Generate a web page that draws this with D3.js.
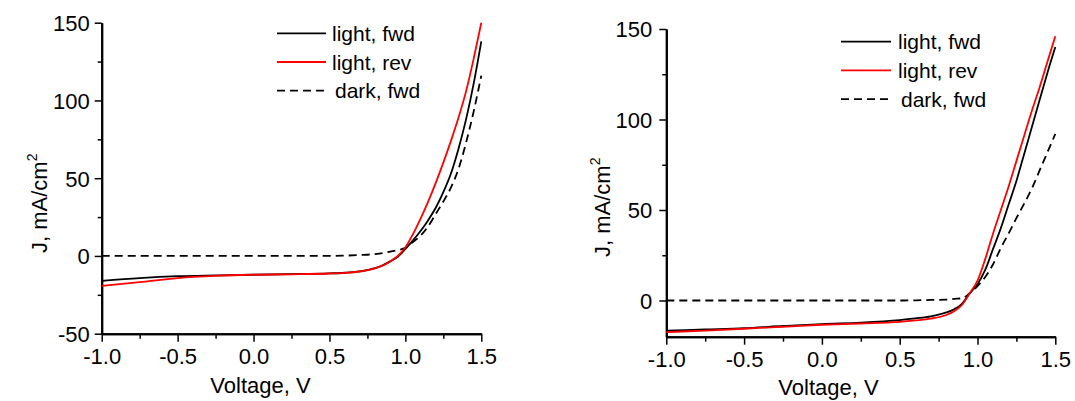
<!DOCTYPE html>
<html>
<head>
<meta charset="utf-8">
<script src="https://cdn.jsdelivr.net/npm/d3@7"></script>
<style>
  body { margin: 0; background: #fff; }
  svg { display: block; font-family: "Liberation Sans", Arial, sans-serif; }
</style>
</head>
<body>
<div id="chart"></div>
<script>
var w = 1075;
var h = 401;

// Voltage points shared by all curves (V)
var voltage = [-1.0, -0.75, -0.5, -0.25, 0, 0.25, 0.5, 0.6, 0.7, 0.8, 0.85, 0.9, 0.95,
  1.0, 1.05, 1.1, 1.15, 1.2, 1.25, 1.3, 1.35, 1.4, 1.45, 1.5];

// Left panel, J in mA/cm2
var leftFwd = [-16.0, -14.2, -13.0, -12.5, -12.1, -11.7, -11.2, -10.8, -9.9, -7.8, -6.0, -3.5, -0.5,
  4.5, 10, 16, 23, 31, 41, 53, 69, 88, 111, 138];
var leftRev = [-19.3, -16.8, -14.2, -12.8, -12.1, -11.8, -11.3, -10.9, -10.0, -8.0, -6.2, -3.5, 0,
  5.5, 14, 24, 35, 47, 60, 74, 89, 106, 127, 150];
var leftDark = [0, 0, 0, 0, 0, 0, 0, 0.2, 0.6, 1.2, 1.8, 2.8, 3.8,
  5.2, 9, 13, 19, 27, 35, 44, 56, 73, 93, 116];

// Right panel
var rightFwd = [-16.7, -16.0, -15.3, -14.1, -13.0, -12.2, -10.8, -9.9, -8.8, -6.6, -4.8, -1.8, 4,
  9, 17, 28.5, 40, 53, 66, 81, 96, 111, 126, 140];
var rightRev = [-17.5, -16.6, -15.6, -14.5, -13.4, -12.7, -11.8, -11.0, -10.0, -8.0, -6.0, -2.5, 4,
  11, 23, 37, 50, 63, 77, 91, 105, 118, 132, 146];
var rightDark = [0, 0, 0, 0, 0, 0, 0, 0.1, 0.3, 0.5, 0.9, 1.2, 4,
  8, 13, 20, 29, 37, 45.5, 53.5, 62, 72, 82, 92];

var xMajor = [-1.0, -0.5, 0, 0.5, 1.0, 1.5];
var xMinor = [-0.75, -0.25, 0.25, 0.75, 1.25];
var leftYMajor = [-50, 0, 50, 100, 150];
var leftYMinor = [-25, 25, 75, 125];
var rightYMajor = [0, 50, 100, 150];
var rightYMinor = [25, 75, 125];

var seriesNames = ["light, fwd", "light, rev", "dark, fwd"];

var svg = d3.select("#chart")
  .append("svg")
  .attr("width", w)
  .attr("height", h);

function drawPanel(opt) {
  var x = d3.scaleLinear().domain([-1, 1.5]).range([opt.x0, opt.x1]);
  var y = d3.scaleLinear().domain(opt.yDomain).range([opt.y0, opt.y1]);

  var g = svg.append("g");

  // minor ticks first, then the major axis on top
  g.append("g")
    .attr("transform", "translate(0," + opt.y0 + ")")
    .call(d3.axisBottom(x).tickValues(xMinor).tickSize(5).tickSizeOuter(0).tickFormat(""));
  g.append("g")
    .attr("transform", "translate(" + opt.x0 + ",0)")
    .call(d3.axisLeft(y).tickValues(opt.yMinor).tickSize(4).tickSizeOuter(0).tickFormat(""));

  var xAxis = g.append("g")
    .attr("transform", "translate(0," + opt.y0 + ")")
    .call(d3.axisBottom(x).tickValues(xMajor).tickSize(8).tickSizeOuter(0).tickPadding(7)
      .tickFormat(d => d.toFixed(1)));
  var yAxis = g.append("g")
    .attr("transform", "translate(" + opt.x0 + ",0)")
    .call(d3.axisLeft(y).tickValues(opt.yMajor).tickSize(7).tickSizeOuter(0).tickPadding(opt.yPad)
      .tickFormat(d => String(d)));

  g.selectAll(".domain").attr("stroke", "#000").attr("stroke-width", 2);
  g.selectAll(".tick line").attr("stroke", "#000").attr("stroke-width", 1.5);
  g.selectAll(".tick text")
    .attr("fill", "#000")
    .style("font-family", "'Liberation Sans', Arial, sans-serif")
    .style("font-size", "22px");
  yAxis.selectAll(".tick text").attr("dy", "0.36em");

  // axis titles
  g.append("text")
    .attr("x", opt.xLabelX)
    .attr("y", opt.xLabelY)
    .attr("text-anchor", "middle")
    .style("font-size", "22px")
    .text("Voltage, V");

  var yl = g.append("text")
    .attr("transform", "translate(" + opt.yLabelX + "," + opt.yLabelY + ") rotate(-90)")
    .attr("text-anchor", "start")
    .style("font-size", "22px");
  yl.append("tspan").text("J, mA/cm");
  yl.append("tspan").attr("dy", -10).style("font-size", "14px").text("2");

  var line = d3.line()
    .x((d, i) => x(voltage[i]))
    .y(d => y(d))
    .curve(d3.curveMonotoneX);

  var series = [
    { values: opt.fwd, color: "#000", dash: null },
    { values: opt.dark, color: "#000", dash: "8,5" },
    { values: opt.rev, color: "#ff0000", dash: null }
  ];

  g.selectAll(".curve")
    .data(series)
    .enter()
    .append("path")
    .attr("class", "curve")
    .attr("d", d => line(d.values))
    .attr("fill", "none")
    .attr("stroke", d => d.color)
    .attr("stroke-width", 1.8)
    .attr("stroke-dasharray", d => d.dash);

  // legend
  var legendStyle = [
    { color: "#000", dash: null },
    { color: "#ff0000", dash: null },
    { color: "#000", dash: "8,5" }
  ];
  var legend = g.append("g")
    .attr("transform", "translate(" + opt.legX + "," + opt.legY + ")");
  var items = legend.selectAll(".legend-item")
    .data(seriesNames)
    .enter()
    .append("g")
    .attr("class", "legend-item")
    .attr("transform", (d, i) => "translate(0," + (i * 28.7) + ")");
  items.append("line")
    .attr("x1", 0)
    .attr("x2", opt.legLen)
    .attr("stroke", (d, i) => legendStyle[i].color)
    .attr("stroke-width", 1.8)
    .attr("stroke-dasharray", (d, i) => legendStyle[i].dash);
  items.append("text")
    .attr("x", (d, i) => i == 2 ? opt.legText + 3 : opt.legText)
    .attr("y", 7.5)
    .style("font-size", "21px")
    .text(d => d);
}

drawPanel({
  x0: 101.7, x1: 481.3,
  y0: 333.7, y1: 22.7,
  yDomain: [-50, 150],
  yMajor: leftYMajor, yMinor: leftYMinor, yPad: 5,
  fwd: leftFwd, rev: leftRev, dark: leftDark,
  xLabelX: 260.5, xLabelY: 393,
  yLabelX: 47, yLabelY: 253,
  legX: 277, legY: 33.3, legLen: 49, legText: 55
});

drawPanel({
  x0: 666.3, x1: 1055.3,
  y0: 336.7, y1: 29,
  yDomain: [-20, 150],
  yMajor: rightYMajor, yMinor: rightYMinor, yPad: 7,
  fwd: rightFwd, rev: rightRev, dark: rightDark,
  xLabelX: 828.5, xLabelY: 395,
  yLabelX: 609.5, yLabelY: 257,
  legX: 841, legY: 41.7, legLen: 50, legText: 57
});
</script>
</body>
</html>
